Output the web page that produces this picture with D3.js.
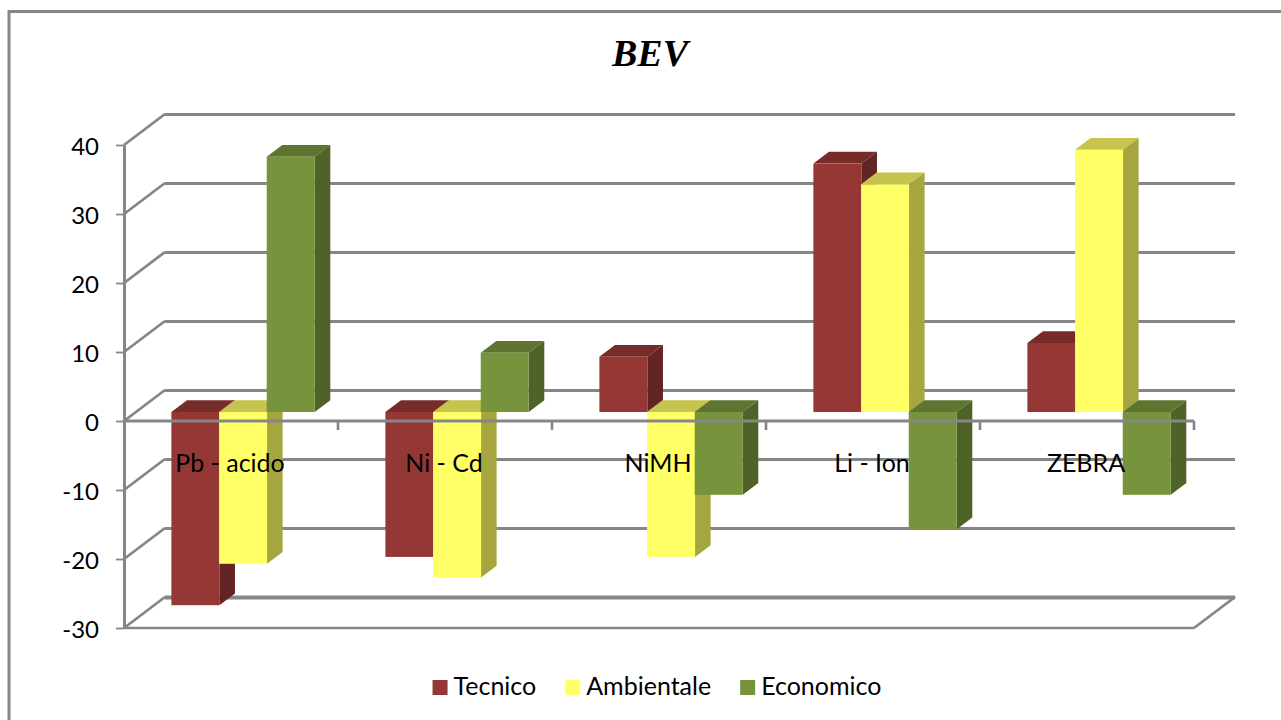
<!DOCTYPE html>
<html>
<head>
<meta charset="utf-8">
<script src="https://cdn.jsdelivr.net/npm/d3@7/dist/d3.min.js"></script>
<style>
  html, body { margin: 0; padding: 0; background: #fff; overflow: hidden; }
  svg { display: block; }
  text { font-family: Lato, "Open Sans", sans-serif; fill: #000; }
</style>
</head>
<body>
<svg id="chart" width="1281" height="720"></svg>
<script>
const chartTitle = "BEV";
const categories = ["Pb - acido", "Ni - Cd", "NiMH", "Li - Ion", "ZEBRA"];
const seriesNames = ["Tecnico", "Ambientale", "Economico"];
const tecnico = [-28, -21, 8, 36, 10];
const ambientale = [-22, -24, -21, 33, 38];
const economico = [37, 8.6, -12, -17, -12];
const yTicks = [-30, -20, -10, 0, 10, 20, 30, 40];

const seriesValues = [tecnico, ambientale, economico];
const faceColors = [
  { front: "#953735", top: "#772c2a", side: "#632523" },
  { front: "#ffff66", top: "#c4c44e", side: "#a6a640" },
  { front: "#77933c", top: "#5f752f", side: "#4f6228" }
];
const lineColor = "#868686";

const svg = d3.select("#chart");

// Chart frame: only the top and left edges are visible
svg.append("path")
  .attr("d", "M9,720V11.5H1281")
  .attr("fill", "none").attr("stroke", lineColor).attr("stroke-width", 3);

svg.append("text")
  .attr("x", 650).attr("y", 65.5).attr("text-anchor", "middle")
  .style("font-family", "'Liberation Serif', serif")
  .style("font-weight", "bold").style("font-style", "italic")
  .style("font-size", "38px")
  .text(chartTitle);

// Front plane scales; depth maps 0..1 to the oblique offset towards the back wall
const y = d3.scaleLinear().domain([-30, 40]).range([628, 145]);
const x = d3.scaleBand().domain(categories).range([124, 1194]);
const depthX = d3.scaleLinear().domain([0, 1]).range([0, 41]);
const depthY = d3.scaleLinear().domain([0, 1]).range([0, -31]);
const barDepthFront = 0.29;
const barDepthBack = 0.67;
const inner = d3.scaleBand().domain(seriesNames).range([35.5, 178.5]);

const gridLayer = svg.append("g").attr("fill", "none").attr("stroke", lineColor);

// Back wall gridlines
gridLayer.selectAll("line.back").data(yTicks).join("line")
  .attr("class", "back")
  .attr("x1", depthX(1) + x.range()[0]).attr("x2", depthX(1) + x.range()[1])
  .attr("y1", d => y(d) + depthY(1) + 0.5).attr("y2", d => y(d) + depthY(1) + 0.5)
  .attr("stroke-width", d => d === -30 ? 4 : 3);

// Side wall diagonals
gridLayer.selectAll("line.wall").data(yTicks).join("line")
  .attr("class", "wall")
  .attr("x1", x.range()[0]).attr("y1", d => y(d))
  .attr("x2", x.range()[0] + depthX(1)).attr("y2", d => y(d) + depthY(1))
  .attr("stroke-width", 2.8);

// Floor front edge and right diagonal
const yMin = yTicks[0];
gridLayer.append("line")
  .attr("x1", x.range()[0]).attr("x2", x.range()[1])
  .attr("y1", y(yMin)).attr("y2", y(yMin)).attr("stroke-width", 2.4);
gridLayer.append("line")
  .attr("x1", x.range()[1]).attr("y1", y(yMin))
  .attr("x2", x.range()[1] + depthX(1)).attr("y2", y(yMin) + depthY(1))
  .attr("stroke-width", 2.8);

// Extruded bars, painted left to right so nearer neighbours overlap correctly
const barLayer = svg.append("g");
const pts = a => a.map(p => p.join(",")).join(" ");
categories.forEach((cat, c) => {
  seriesNames.forEach((name, s) => {
    const v = seriesValues[s][c];
    const left = x(cat) + depthX(barDepthFront) + inner(name);
    const right = left + 48;
    const off = depthY(barDepthFront);
    const yTop = y(Math.max(v, 0)) + off;
    const yBot = y(Math.min(v, 0)) + off;
    const dx = depthX(barDepthBack) - depthX(barDepthFront);
    const dy = depthY(barDepthBack) - depthY(barDepthFront);
    const col = faceColors[s];
    const g = barLayer.append("g");
    g.append("polygon")
      .attr("points", pts([[left, yTop], [left + dx, yTop + dy], [right + dx, yTop + dy], [right, yTop]]))
      .attr("fill", col.top);
    g.append("polygon")
      .attr("points", pts([[right, yTop], [right + dx, yTop + dy], [right + dx, yBot + dy], [right, yBot]]))
      .attr("fill", col.side);
    g.append("rect")
      .attr("x", left).attr("y", yTop)
      .attr("width", right - left).attr("height", yBot - yTop)
      .attr("fill", col.front);
  });
});

// Zero axis with category tick marks, in front of the bars
const axisLayer = svg.append("g").attr("stroke", lineColor).attr("fill", "none");
axisLayer.append("line")
  .attr("x1", x.range()[0]).attr("x2", x.range()[1])
  .attr("y1", y(0)).attr("y2", y(0)).attr("stroke-width", 3);
axisLayer.selectAll("line.tick").data(categories).join("line")
  .attr("class", "tick")
  .attr("x1", d => x(d) + x.bandwidth()).attr("x2", d => x(d) + x.bandwidth())
  .attr("y1", y(0)).attr("y2", y(0) + 9)
  .attr("stroke-width", 2.6);

// Value axis, with a plain hyphen on negative labels
const yAxis = d3.axisLeft(y).tickValues(yTicks).tickSize(8).tickPadding(17).tickSizeOuter(0)
  .tickFormat(d => String(d));
const yAxisG = svg.append("g").attr("transform", `translate(${x.range()[0]},0)`).call(yAxis);
yAxisG.select(".domain").attr("stroke", lineColor).attr("stroke-width", 3);
yAxisG.selectAll(".tick line").attr("stroke", lineColor).attr("stroke-width", 1.8);
yAxisG.selectAll(".tick text")
  .style("font-size", "24px").style("font-family", "Lato, sans-serif")
  .attr("fill", "#000").attr("y", 1.5);

// Category labels sit on top of the bars just under the zero line
svg.append("g").selectAll("text").data(categories).join("text")
  .attr("x", d => x(d) + x.bandwidth() / 2 - 1)
  .attr("y", 472).attr("text-anchor", "middle")
  .style("font-size", "25px")
  .text(d => d);

// Legend, laid out from the measured label widths
const legend = svg.append("g");
let cursor = 0;
const swatch = 15, swatchGap = 6, itemGap = 29;
seriesNames.forEach((name, s) => {
  legend.append("rect")
    .attr("x", cursor).attr("y", 680).attr("width", swatch).attr("height", swatch)
    .attr("fill", faceColors[s].front);
  const t = legend.append("text")
    .attr("x", cursor + swatch + swatchGap).attr("y", 695)
    .style("font-size", "25px").text(name);
  cursor += swatch + swatchGap + t.node().getComputedTextLength() + itemGap;
});
legend.attr("transform", `translate(${657 - (cursor - itemGap) / 2},0)`);
</script>
</body>
</html>
